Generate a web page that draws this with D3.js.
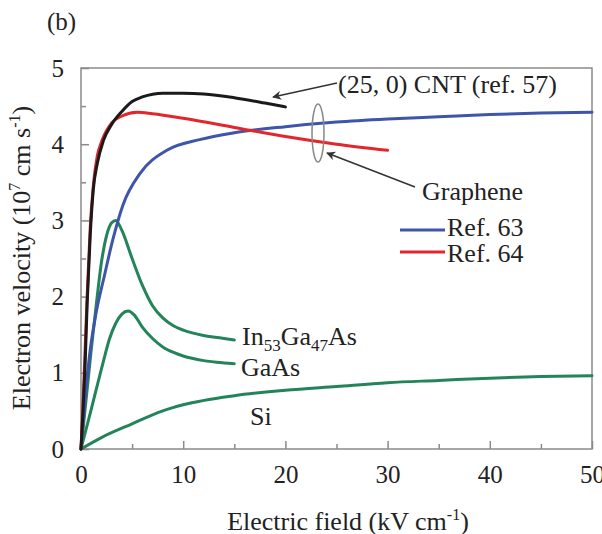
<!DOCTYPE html>
<html>
<head>
<meta charset="utf-8">
<script src="https://cdn.jsdelivr.net/npm/d3@7"></script>
<style>
  body { margin: 0; background: #fff; }
  text { font-family: "Liberation Serif", "Times New Roman", serif; fill: #222; }
</style>
</head>
<body>
<div id="chart"></div>
<script>
// values (x: kV/cm, y: 1e7 cm/s)
var cntX = [0, 0.2, 0.4, 0.6, 0.9, 1.2, 1.6, 2.2, 3, 4, 5, 6, 8, 10, 12, 15, 18, 20];
var cntY = [0, 0.5, 1.1, 1.9, 2.8, 3.4, 3.75, 4.05, 4.26, 4.43, 4.56, 4.62, 4.67, 4.67, 4.66, 4.61, 4.54, 4.49];

var ref64X = [0, 0.2, 0.4, 0.6, 0.9, 1.2, 1.6, 2, 3, 4, 5.5, 7, 10, 15, 20, 25, 30];
var ref64Y = [0, 0.6, 1.3, 2.0, 2.9, 3.45, 3.85, 4.03, 4.28, 4.37, 4.42, 4.4, 4.34, 4.22, 4.1, 4.0, 3.92];

var ref63X = [0, 0.5, 0.9, 1.4, 2.3, 3.1, 4.1, 5.8, 8.4, 11.6, 15, 20, 25, 30, 35, 40, 45, 50];
var ref63Y = [0, 0.8, 1.3, 1.73, 2.28, 2.74, 3.2, 3.62, 3.92, 4.06, 4.15, 4.23, 4.29, 4.33, 4.36, 4.39, 4.41, 4.42];

var ingaasX = [0, 0.5, 1, 1.5, 2, 2.5, 3, 3.4, 4, 5, 6, 7, 8, 9, 10, 12, 14, 15];
var ingaasY = [0, 0.65, 1.3, 1.9, 2.45, 2.8, 2.97, 3.0, 2.87, 2.5, 2.15, 1.88, 1.72, 1.62, 1.56, 1.49, 1.45, 1.43];

var gaasX = [0, 1, 2, 2.8, 3.4, 4, 4.6, 5.2, 6, 7, 8, 9, 10, 12, 14, 15];
var gaasY = [0, 0.52, 1.05, 1.45, 1.65, 1.77, 1.81, 1.76, 1.6, 1.45, 1.34, 1.27, 1.22, 1.16, 1.13, 1.12];

var siX = [0, 2, 5, 8, 10, 15, 20, 25, 30, 35, 40, 45, 50];
var siY = [0, 0.15, 0.33, 0.5, 0.58, 0.7, 0.77, 0.82, 0.87, 0.9, 0.93, 0.95, 0.96];

var xTicks = [0, 10, 20, 30, 40, 50];
var xMinor = [5, 15, 25, 35, 45];
var yTicks = [0, 1, 2, 3, 4, 5];
var yMinor = [0.5, 1.5, 2.5, 3.5, 4.5];

var W = 602, H = 534;
var margin = {top: 68, right: 10, bottom: 85, left: 81};
var width = W - margin.left - margin.right,
    height = H - margin.top - margin.bottom;

var svg = d3.select("#chart").append("svg")
    .attr("width", W).attr("height", H);

var g = svg.append("g").attr("transform", "translate(" + margin.left + "," + margin.top + ")");

var x = d3.scaleLinear().domain([0, 50]).range([0, width]);
var y = d3.scaleLinear().domain([0, 5]).range([height, 0]);

var axisColor = "#8a8a8a";

function styleAxis(sel) {
  sel.select(".domain").remove();
  sel.selectAll(".tick line").attr("stroke", axisColor).attr("stroke-width", 1.5);
  sel.selectAll(".tick text").style("font-size", "25px").attr("fill", "#222");
}

g.append("g").attr("transform", "translate(0," + height + ")")
  .call(d3.axisBottom(x).tickValues(xMinor).tickSize(-5).tickFormat(""))
  .call(styleAxis);
g.append("g").attr("transform", "translate(0," + height + ")")
  .call(d3.axisBottom(x).tickValues(xTicks).tickSize(-8).tickPadding(16).tickFormat(d3.format("d")))
  .call(styleAxis);

g.append("g")
  .call(d3.axisLeft(y).tickValues(yMinor).tickSize(-5).tickFormat(""))
  .call(styleAxis);
g.append("g")
  .call(d3.axisLeft(y).tickValues(yTicks).tickSize(-8).tickPadding(17).tickFormat(d3.format("d")))
  .call(styleAxis);

// frame
g.append("rect")
  .attr("width", width).attr("height", height)
  .attr("fill", "none").attr("stroke", axisColor).attr("stroke-width", 1.5);

var line = d3.line()
  .x(function(d) { return x(d[0]); })
  .y(function(d) { return y(d[1]); })
  .curve(d3.curveMonotoneX);

function series(xs, ys) { return xs.map(function(v, i) { return [v, ys[i]]; }); }

var curves = [
  {xs: siX, ys: siY, color: "#23845a"},
  {xs: gaasX, ys: gaasY, color: "#23845a"},
  {xs: ingaasX, ys: ingaasY, color: "#23845a"},
  {xs: ref63X, ys: ref63Y, color: "#3e55aa"},
  {xs: ref64X, ys: ref64Y, color: "#e3262b"},
  {xs: cntX, ys: cntY, color: "#1a1a1a"}
];

curves.forEach(function(c) {
  g.append("path")
    .datum(series(c.xs, c.ys))
    .attr("fill", "none")
    .attr("stroke", c.color)
    .attr("stroke-width", 3)
    .attr("stroke-linejoin", "round")
    .attr("stroke-linecap", "round")
    .attr("d", line);
});

// annotations
var defs = svg.append("defs");
defs.append("marker")
  .attr("id", "arr").attr("viewBox", "0 0 10 10")
  .attr("refX", 9).attr("refY", 5)
  .attr("markerWidth", 12).attr("markerHeight", 9)
  .attr("markerUnits", "userSpaceOnUse")
  .attr("orient", "auto")
  .append("path").attr("d", "M0,0 L10,5 L0,10 L3,5 Z").attr("fill", "#333");

svg.append("line")
  .attr("x1", 337).attr("y1", 83).attr("x2", 273).attr("y2", 97)
  .attr("stroke", "#333").attr("stroke-width", 1.5).attr("marker-end", "url(#arr)");
svg.append("line")
  .attr("x1", 415).attr("y1", 187).attr("x2", 327).attr("y2", 153)
  .attr("stroke", "#333").attr("stroke-width", 1.5).attr("marker-end", "url(#arr)");

svg.append("ellipse")
  .attr("cx", 318).attr("cy", 133).attr("rx", 6).attr("ry", 29)
  .attr("fill", "none").attr("stroke", "#888").attr("stroke-width", 1.5);

svg.append("text").attr("x", 338).attr("y", 93).style("font-size", "26px").text("(25, 0) CNT (ref. 57)");
svg.append("text").attr("x", 422).attr("y", 200).style("font-size", "26px").text("Graphene");

svg.append("line").attr("x1", 400).attr("x2", 445).attr("y1", 230).attr("y2", 230)
  .attr("stroke", "#3e55aa").attr("stroke-width", 3);
svg.append("text").attr("x", 447).attr("y", 236).style("font-size", "26px").text("Ref. 63");
svg.append("line").attr("x1", 400).attr("x2", 445).attr("y1", 252).attr("y2", 252)
  .attr("stroke", "#e3262b").attr("stroke-width", 3);
svg.append("text").attr("x", 447).attr("y", 262).style("font-size", "26px").text("Ref. 64");

var t1 = svg.append("text").attr("x", 242).attr("y", 345).style("font-size", "26px");
t1.append("tspan").text("In");
t1.append("tspan").attr("dy", 6).style("font-size", "17px").text("53");
t1.append("tspan").attr("dy", -6).text("Ga");
t1.append("tspan").attr("dy", 6).style("font-size", "17px").text("47");
t1.append("tspan").attr("dy", -6).text("As");

svg.append("text").attr("x", 241).attr("y", 376).style("font-size", "26px").text("GaAs");
svg.append("text").attr("x", 250).attr("y", 425).style("font-size", "26px").text("Si");

svg.append("text").attr("x", 47).attr("y", 30).style("font-size", "25px").text("(b)");

// axis titles
var xt = svg.append("text").attr("x", 348).attr("y", 530).attr("text-anchor", "middle").style("font-size", "26px");
xt.append("tspan").text("Electric field (kV cm");
xt.append("tspan").attr("dy", -10).style("font-size", "16px").text("-1");
xt.append("tspan").attr("dy", 10).text(")");

var yt = svg.append("text")
  .attr("transform", "translate(30,258) rotate(-90)")
  .attr("text-anchor", "middle").style("font-size", "26px");
yt.append("tspan").text("Electron velocity (10");
yt.append("tspan").attr("dy", -10).style("font-size", "16px").text("7");
yt.append("tspan").attr("dy", 10).text(" cm s");
yt.append("tspan").attr("dy", -10).style("font-size", "16px").text("-1");
yt.append("tspan").attr("dy", 10).text(")");
</script>
</body>
</html>
